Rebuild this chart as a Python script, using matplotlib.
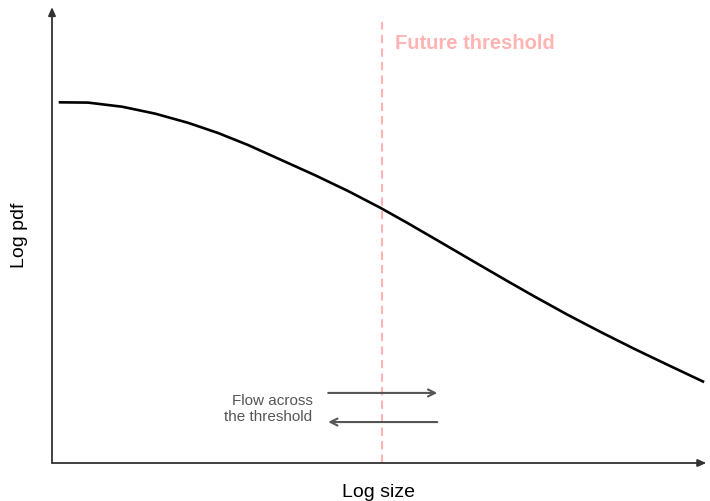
import matplotlib
matplotlib.use("Agg")
import matplotlib.pyplot as plt

plt.rcParams['font.family'] = ['Liberation Sans', 'DejaVu Sans']

# curve (arbitrary units, axes 0..10)
log_size = [0.123, 0.551, 1.072, 1.577, 2.083, 2.542, 3.002, 3.522, 4.028,
            4.533, 5.023, 5.452, 5.972, 6.478, 6.983, 7.397, 7.902, 8.423,
            8.928, 9.433, 9.969]
log_pdf = [7.927, 7.921, 7.831, 7.679, 7.477, 7.253, 6.989, 6.653, 6.325,
           5.978, 5.613, 5.268, 4.835, 4.411, 3.991, 3.653, 3.253, 2.864,
           2.501, 2.154, 1.791]

threshold_x = 5.05
threshold_top = 9.69
flow_left, flow_right = 4.23, 5.90
flow_y_out, flow_y_in = 1.54, 0.90

fig = plt.figure(figsize=(7.1, 5.01), dpi=100)
ax = fig.add_axes([52/710, 38/501, 653/710, 455/501])
ax.set_xlim(0, 10)
ax.set_ylim(0, 10)
for s in ax.spines.values():
    s.set_visible(False)
ax.set_xticks([]); ax.set_yticks([])

# axes with arrow heads
axc = "#333333"
ax.annotate("", xy=(10.02, 0), xytext=(0, 0), annotation_clip=False,
            arrowprops=dict(arrowstyle="-|>,head_length=0.5,head_width=0.22",
                            color=axc, lw=1.3, shrinkA=0, shrinkB=0))
ax.annotate("", xy=(0, 10.02), xytext=(0, 0), annotation_clip=False,
            arrowprops=dict(arrowstyle="-|>,head_length=0.5,head_width=0.22",
                            color=axc, lw=1.3, shrinkA=0, shrinkB=0))

# curve
ax.plot(log_size, log_pdf, color="black", lw=1.9, solid_joinstyle="round")

# threshold
ax.plot([threshold_x, threshold_x], [0, threshold_top], color="#ffb3b3",
        lw=1.5, dashes=(4, 2.5))
ax.text(threshold_x + 0.2, 9.21, "Future threshold",
        color="#ffb3b3", fontsize=14.5, fontweight="bold", ha="left", va="center")

# flow arrows
arr = dict(arrowstyle="->,head_length=0.5,head_width=0.25", color="#555555",
           lw=1.5, shrinkA=0, shrinkB=0)
ax.annotate("", xy=(flow_right, flow_y_out), xytext=(flow_left, flow_y_out),
            arrowprops=arr)
ax.annotate("", xy=(flow_left, flow_y_in), xytext=(flow_right, flow_y_in),
            arrowprops=arr)
ax.text(3.99, 1.19, "Flow across\nthe threshold", color="#555555", fontsize=11,
        ha="right", va="center", multialignment="right", linespacing=1.15)

ax.set_xlabel("Log size", fontsize=14, labelpad=15)
ax.set_ylabel("Log pdf", fontsize=14, labelpad=17)

fig.savefig("out.png", dpi=100)
